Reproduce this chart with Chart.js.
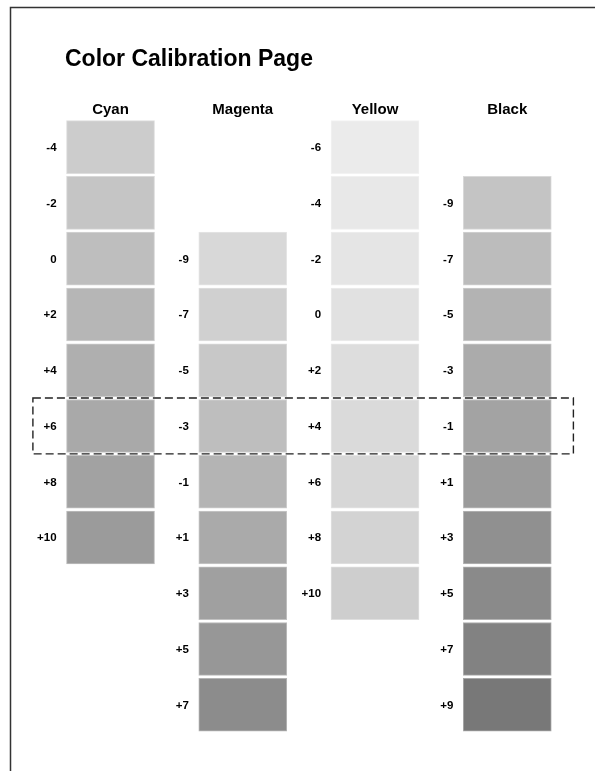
<!DOCTYPE html>
<html>
<head>
<meta charset="utf-8">
<title>Color Calibration Page</title>
<script src="https://cdn.jsdelivr.net/npm/chart.js@4.4.1/dist/chart.umd.min.js"></script>
<style>
  html, body { margin: 0; padding: 0; background: #fff; }
  #page { display: block; }
</style>
</head>
<body>
<canvas id="page" width="595" height="771"></canvas>
<script>
// columns of the calibration page
const columns = ['Cyan', 'Magenta', 'Yellow', 'Black'];

// offset labels per column (top to bottom)
const cyanSteps    = ['-4', '-2', '0', '+2', '+4', '+6', '+8', '+10'];
const magentaSteps = ['-9', '-7', '-5', '-3', '-1', '+1', '+3', '+5', '+7'];
const yellowSteps  = ['-6', '-4', '-2', '0', '+2', '+4', '+6', '+8', '+10'];
const blackSteps   = ['-9', '-7', '-5', '-3', '-1', '+1', '+3', '+5', '+7', '+9'];

// printed gray of each swatch
const cyanGrays    = ['#cccccc', '#c5c5c5', '#bebebe', '#b6b6b6', '#afafaf', '#a9a9a9', '#a2a2a2', '#9b9b9b'];
const magentaGrays = ['#d8d8d8', '#d0d0d0', '#c8c8c8', '#bebebe', '#b4b4b4', '#aaaaaa', '#a0a0a0', '#979797', '#8c8c8c'];
const yellowGrays  = ['#ebebeb', '#e8e8e8', '#e5e5e5', '#e1e1e1', '#dddddd', '#dadada', '#d7d7d7', '#d3d3d3', '#cecece'];
const blackGrays   = ['#c4c4c4', '#bcbcbc', '#b3b3b3', '#ababab', '#a3a3a3', '#9b9b9b', '#909090', '#8a8a8a', '#828282', '#787878'];

// row where each column's first swatch sits, and the row that is boxed
const startRows = [0, 2, 0, 1];
const highlightRow = 5;

const allSteps = [cyanSteps, magentaSteps, yellowSteps, blackSteps];
const allGrays = [cyanGrays, magentaGrays, yellowGrays, blackGrays];

function lighten(hex, f) {
    let v = parseInt(hex.slice(1, 3), 16);
    v = Math.round(v + (255 - v) * f);
    return 'rgb(' + v + ',' + v + ',' + v + ')';
}

let rowCount = 0;
columns.forEach((c, ci) => {
    rowCount = Math.max(rowCount, startRows[ci] + allSteps[ci].length);
});

// one bar dataset per row, bars of all columns overlap in place (grouped: false)
let datasets = [];
for (let r = 0; r < rowCount; r++) {
    let data = [], fills = [], edges = [], labels = [];
    columns.forEach((c, ci) => {
        let i = r - startRows[ci];
        if (i >= 0 && i < allSteps[ci].length) {
            data.push([r - 0.475, r + 0.475]);
            fills.push(allGrays[ci][i]);
            edges.push(lighten(allGrays[ci][i], 0.35));
            labels.push(allSteps[ci][i]);
        } else {
            data.push(null);
            fills.push('#fff');
            edges.push('#fff');
            labels.push('');
        }
    });
    datasets.push({
        label: 'row ' + r,
        data: data,
        stepLabels: labels,
        backgroundColor: fills,
        borderColor: edges,
        borderWidth: 1,
        borderSkipped: false,
        grouped: false,
        barThickness: 88
    });
}

const pagePlugin = {
    id: 'pagePlugin',
    beforeDraw(chart) {
        let ctx = chart.ctx;
        ctx.save();
        ctx.fillStyle = '#ffffff';
        ctx.fillRect(0, 0, chart.width, chart.height);
        // page frame
        ctx.strokeStyle = '#333333';
        ctx.lineWidth = 1.5;
        ctx.beginPath();
        ctx.moveTo(10.5, chart.height);
        ctx.lineTo(10.5, 7.5);
        ctx.lineTo(chart.width, 7.5);
        ctx.stroke();
        // title
        ctx.fillStyle = '#000';
        ctx.font = 'bold 23px "Liberation Sans", Arial, sans-serif';
        ctx.textAlign = 'left';
        ctx.textBaseline = 'alphabetic';
        ctx.fillText('Color Calibration Page', 65, 66);
        // column headers
        let x = chart.scales.x;
        ctx.font = 'bold 15px "Liberation Sans", Arial, sans-serif';
        ctx.textAlign = 'center';
        columns.forEach((c, ci) => {
            ctx.fillText(c, x.getPixelForValue(ci), 114);
        });
        ctx.restore();
    },
    afterDatasetsDraw(chart) {
        let ctx = chart.ctx;
        let y = chart.scales.y;
        let area = chart.chartArea;
        ctx.save();
        // step labels left of each swatch
        ctx.fillStyle = '#000';
        ctx.font = 'bold 11.5px "Liberation Sans", Arial, sans-serif';
        ctx.textAlign = 'right';
        ctx.textBaseline = 'alphabetic';
        chart.data.datasets.forEach((ds, di) => {
            let meta = chart.getDatasetMeta(di);
            meta.data.forEach((bar, i) => {
                if (ds.data[i] == null) return;
                let cy = (bar.y + bar.base) / 2;
                ctx.fillText(ds.stepLabels[i], bar.x - bar.width / 2 - 10, cy + 4);
            });
        });
        // dashed box round the highlighted row
        let top = y.getPixelForValue(highlightRow - 0.5);
        let bottom = y.getPixelForValue(highlightRow + 0.5);
        ctx.strokeStyle = '#222';
        ctx.lineWidth = 1.4;
        ctx.setLineDash([8, 4]);
        ctx.strokeRect(area.left - 11.5, top, area.right - area.left + 11.5, bottom - top);
        ctx.restore();
    }
};

new Chart(document.getElementById('page'), {
    type: 'bar',
    data: {
        labels: columns,
        datasets: datasets
    },
    options: {
        responsive: false,
        animation: false,
        devicePixelRatio: 1,
        layout: {
            padding: { left: 44.4, right: 21.6, top: 119.3, bottom: 38.4 }
        },
        scales: {
            x: { type: 'category', offset: true, display: false },
            y: { type: 'linear', reverse: true, min: -0.5, max: rowCount - 0.5, display: false }
        },
        plugins: {
            legend: { display: false },
            tooltip: { enabled: false },
            title: { display: false }
        }
    },
    plugins: [pagePlugin]
});
</script>
</body>
</html>
